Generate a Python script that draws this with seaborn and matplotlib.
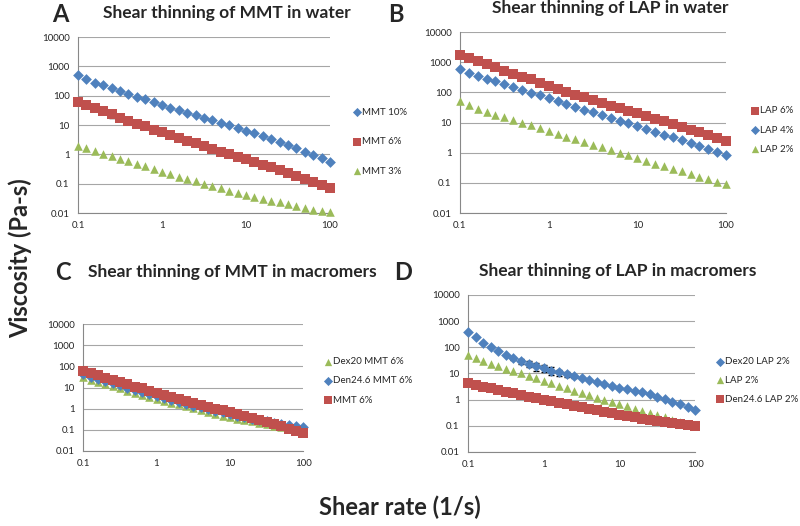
import matplotlib
matplotlib.use('Agg')
import matplotlib.pyplot as plt
import matplotlib.ticker as mticker
import seaborn as sns

sns.set_style('white')
plt.rcParams['font.family'] = ['Lato', 'DejaVu Sans']

# ── Data ──────────────────────────────────────────────────────────────────────
shear = [0.1, 0.126, 0.158, 0.2, 0.251, 0.316, 0.398, 0.501, 0.631, 0.794,
         1.0, 1.26, 1.58, 2.0, 2.51, 3.16, 3.98, 5.01, 6.31, 7.94,
         10.0, 12.6, 15.8, 20.0, 25.1, 31.6, 39.8, 50.1, 63.1, 79.4, 100.0]

# A: MMT in water
mmt10 = [500, 370, 280, 230, 180, 140, 115, 90, 75, 60,
         47, 38, 32, 26, 22, 18, 15, 12, 10, 8,
         6.3, 5.2, 4.2, 3.3, 2.6, 2.1, 1.6, 1.2, 0.95, 0.75, 0.57]
mmt6 = [62, 47, 37, 29, 23, 18, 14, 11, 9, 7,
        5.6, 4.5, 3.6, 2.9, 2.4, 1.9, 1.55, 1.25, 1.0, 0.82,
        0.67, 0.55, 0.45, 0.37, 0.3, 0.24, 0.19, 0.15, 0.115, 0.09, 0.07]
mmt6_err = [14, 10, 8, 6, 5, 4, 3, 2.4, 1.8, 1.3,
            0.8, 0.5, 0.3, 0.2, 0.1, 0.1, 0.05, 0.05, 0.03, 0.02,
            0.02, 0.01, 0.01, 0.01, 0.01, 0.01, 0.005, 0.005, 0.003, 0.003, 0.002]
mmt3 = [2.0, 1.6, 1.3, 1.05, 0.85, 0.72, 0.6, 0.48, 0.4, 0.32,
        0.26, 0.21, 0.17, 0.14, 0.12, 0.1, 0.085, 0.07, 0.058, 0.048,
        0.04, 0.034, 0.029, 0.025, 0.023, 0.021, 0.018, 0.015, 0.013, 0.0115, 0.0105]

# B: LAP in water
lap6 = [1800, 1400, 1100, 850, 680, 520, 420, 330, 270, 210,
        165, 130, 105, 85, 68, 55, 44, 36, 30, 25,
        20, 16, 13, 11, 9, 7.2, 5.8, 4.7, 3.8, 3.0, 2.4]
lap4 = [580, 450, 350, 280, 230, 185, 150, 120, 95, 80,
        65, 50, 42, 34, 27, 22, 18, 14.5, 11.5, 9.5,
        7.5, 6.2, 5.0, 4.0, 3.2, 2.6, 2.1, 1.7, 1.35, 1.05, 0.82]
lap2 = [50, 37, 29, 23, 18.5, 15, 12, 9.5, 8, 6.5,
        5.2, 4.2, 3.4, 2.8, 2.3, 1.8, 1.5, 1.2, 1.0, 0.82,
        0.67, 0.53, 0.43, 0.35, 0.29, 0.25, 0.2, 0.16, 0.13, 0.11, 0.09]

# C: MMT in macromers
dex20_mmt = [30, 23, 18, 14.5, 11.5, 9, 7.2, 5.8, 4.6, 3.7,
             3.0, 2.4, 1.95, 1.6, 1.3, 1.05, 0.85, 0.7, 0.57, 0.47,
             0.4, 0.34, 0.29, 0.25, 0.22, 0.19, 0.16, 0.14, 0.12, 0.1, 0.09]
den246_mmt = [42, 33, 26, 20, 16, 12.5, 10, 8, 6.3, 5.0,
              4.0, 3.2, 2.6, 2.1, 1.7, 1.4, 1.15, 0.95, 0.8, 0.66,
              0.55, 0.47, 0.4, 0.34, 0.29, 0.25, 0.22, 0.19, 0.17, 0.15, 0.135]
mmt6_c = [60, 47, 37, 29, 23, 18, 14, 11, 9, 7,
          5.6, 4.5, 3.6, 2.9, 2.4, 1.9, 1.55, 1.25, 1.0, 0.82,
          0.67, 0.55, 0.45, 0.37, 0.3, 0.24, 0.19, 0.15, 0.115, 0.09, 0.07]

# D: LAP in macromers
dex20_lap = [400, 240, 150, 105, 75, 52, 38, 30, 24, 19,
             16, 13, 11, 9.5, 8, 6.5, 5.5, 4.6, 3.9, 3.4,
             2.9, 2.5, 2.2, 1.9, 1.6, 1.3, 1.05, 0.85, 0.68, 0.53, 0.42]
dex20_lap_err = [0, 0, 0, 0, 0, 0, 4, 6, 7, 6,
                 5, 4, 3, 2, 1, 0.5, 0, 0, 0, 0,
                 0, 0, 0, 0, 0, 0, 0, 0, 0, 0, 0]
lap2_d = [50, 38, 30, 24, 19.5, 15.5, 12.5, 10, 8, 6.5,
          5.2, 4.2, 3.4, 2.8, 2.2, 1.8, 1.5, 1.2, 0.98, 0.8,
          0.66, 0.55, 0.45, 0.37, 0.3, 0.25, 0.21, 0.17, 0.14, 0.12, 0.1]
den246_lap = [4.2, 3.6, 3.1, 2.7, 2.3, 2.0, 1.75, 1.5, 1.3, 1.15,
              1.0, 0.87, 0.76, 0.67, 0.58, 0.51, 0.45, 0.39, 0.34, 0.3,
              0.27, 0.24, 0.21, 0.19, 0.17, 0.15, 0.14, 0.125, 0.115, 0.105, 0.095]

BLUE, RED, GREEN = '#4F81BD', '#C0504D', '#9BBB59'
MARK = {'D': (BLUE, 30), 's': (RED, 58), '^': (GREEN, 38)}

fig = plt.figure(figsize=(8, 5.26), dpi=100)


def panel(rect, series, title, letter, title_xy, letter_xy, leg_xy, leg_space):
    ax = fig.add_axes(rect)
    for vals, marker, label, err in series:
        color, size = MARK[marker]
        if err is not None:
            ax.errorbar(shear, vals, yerr=err, fmt='none', ecolor='black',
                        elinewidth=0.8, capsize=2, zorder=2)
        sns.scatterplot(x=shear, y=vals, marker=marker, color=color, s=size,
                        linewidth=0, label=label, ax=ax, clip_on=False, zorder=3)
    ax.set_xscale('log')
    ax.set_yscale('log')
    ax.set_xlim(0.1, 100)
    ax.set_ylim(0.01, 10000)
    ax.set_yticks([0.01, 0.1, 1, 10, 100, 1000, 10000])
    ax.set_xticks([0.1, 1, 10, 100])
    fmt = mticker.FuncFormatter(lambda v, _: f'{v:g}')
    ax.xaxis.set_major_formatter(fmt)
    ax.yaxis.set_major_formatter(fmt)
    ax.xaxis.set_minor_locator(mticker.NullLocator())
    ax.yaxis.set_minor_locator(mticker.NullLocator())
    ax.tick_params(axis='both', labelsize=7, length=3, color='#888888', pad=3)
    ax.tick_params(axis='x', length=0, pad=6)
    ax.grid(axis='y', color='#a6a6a6', linewidth=0.8)
    for side in ('top', 'right'):
        ax.spines[side].set_visible(False)
    for side in ('left', 'bottom'):
        ax.spines[side].set_color('#888888')
    ax.set_xlabel('')
    ax.set_ylabel('')
    ax.legend(loc='upper left', bbox_to_anchor=leg_xy, bbox_transform=fig.transFigure,
              frameon=False, fontsize=7, handletextpad=0.15, handlelength=0.8,
              markerscale=0.85, labelspacing=leg_space, borderaxespad=0,
              borderpad=0)
    fig.text(*title_xy, title, ha='center', va='center', fontsize=12.5, fontweight='bold')
    fig.text(*letter_xy, letter, ha='center', va='center', fontsize=17, fontweight='bold')
    return ax


panel([0.0975, 0.595, 0.315, 0.3346],
      [(mmt10, 'D', 'MMT 10%', None), (mmt6, 's', 'MMT 6%', mmt6_err), (mmt3, '^', 'MMT 3%', None)],
      'Shear thinning of MMT in water', 'A', (0.283, 0.975), (0.075, 0.973),
      (0.441, 0.795), 2.1)

panel([0.575, 0.595, 0.3325, 0.344],
      [(lap6, 's', 'LAP 6%', None), (lap4, 'D', 'LAP 4%', None), (lap2, '^', 'LAP 2%', None)],
      'Shear thinning of LAP in water', 'B', (0.763, 0.984), (0.495, 0.973),
      (0.939, 0.798), 1.06)

panel([0.104, 0.1426, 0.275, 0.2414],
      [(dex20_mmt, '^', 'Dex20 MMT 6%', None), (den246_mmt, 'D', 'Den24.6 MMT 6%', None),
       (mmt6_c, 's', 'MMT 6%', None)],
      'Shear thinning of MMT in macromers', 'C', (0.29, 0.483), (0.079, 0.481),
      (0.405, 0.321), 1.06)

panel([0.585, 0.1407, 0.284, 0.2985],
      [(dex20_lap, 'D', 'Dex20 LAP 2%', dex20_lap_err), (lap2_d, '^', 'LAP 2%', None),
       (den246_lap, 's', 'Den24.6 LAP 2%', None)],
      'Shear thinning of LAP in macromers', 'D', (0.772, 0.485), (0.504, 0.481),
      (0.895, 0.321), 1.0)

fig.text(0.025, 0.509, 'Viscosity (Pa-s)', rotation=90, ha='center', va='center',
         fontsize=17, fontweight='bold')
fig.text(0.5, 0.035, 'Shear rate (1/s)', ha='center', va='center',
         fontsize=17, fontweight='bold')

plt.savefig('out.png', dpi=100)
plt.close()
